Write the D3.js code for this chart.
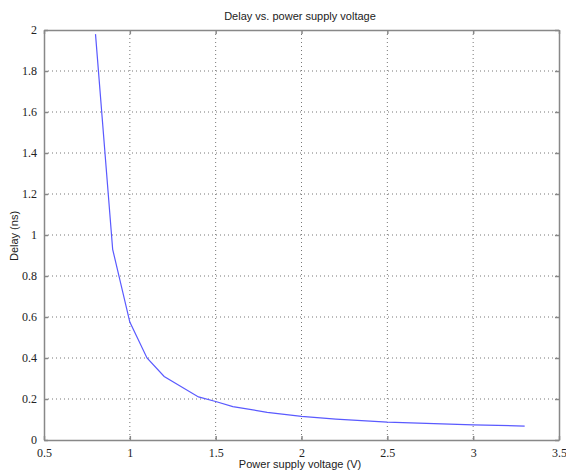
<!DOCTYPE html>
<html><head><meta charset="utf-8">
<script src="https://cdn.jsdelivr.net/npm/d3@7"></script>
<style>body{margin:0;background:#fff;} .tk text{font-family:'Liberation Serif','Times New Roman',serif;font-size:12px;fill:#222;}</style>
</head><body>
<svg id="c" width="566" height="471"></svg>
<script>
const voltage = [0.8, 0.9, 1.0, 1.1, 1.2, 1.4, 1.5, 1.6, 1.8, 2.0, 2.2, 2.5, 3.0, 3.3];
const delay   = [1.98, 0.93, 0.575, 0.40, 0.31, 0.21, 0.188, 0.163, 0.135, 0.115, 0.102, 0.087, 0.074, 0.068];
const xTicks = [0.5, 1, 1.5, 2, 2.5, 3, 3.5];
const yTicks = [0, 0.2, 0.4, 0.6, 0.8, 1, 1.2, 1.4, 1.6, 1.8, 2];

const svg = d3.select("#c");
const L = 44, R = 559, T = 30, B = 440;
const x = d3.scaleLinear().domain([0.5, 3.5]).range([L, R]);
const y = d3.scaleLinear().domain([0, 2]).range([B, T]);
const axisCol = "#888";

// grid
const g = svg.append("g");
g.selectAll(".gx").data(xTicks.slice(1, -1)).join("line")
  .attr("x1", d => x(d)).attr("x2", d => x(d)).attr("y1", T).attr("y2", B)
  .attr("stroke", "#777").attr("stroke-width", 1).attr("stroke-dasharray", "1,3");
g.selectAll(".gy").data(yTicks.slice(1, -1)).join("line")
  .attr("y1", d => y(d)).attr("y2", d => y(d)).attr("x1", L).attr("x2", R)
  .attr("stroke", "#777").attr("stroke-width", 1).attr("stroke-dasharray", "1,3");

// axes (inward ticks on all sides)
const fmt = d => String(d);
const ax = svg.append("g").attr("class", "tk").attr("transform", `translate(0,${B})`)
  .call(d3.axisBottom(x).tickValues(xTicks).tickFormat(fmt).tickSizeInner(-4).tickSizeOuter(0).tickPadding(8));
const axT = svg.append("g").attr("transform", `translate(0,${T})`)
  .call(d3.axisTop(x).tickValues(xTicks).tickFormat("").tickSizeInner(-4).tickSizeOuter(0));
const ay = svg.append("g").attr("class", "tk").attr("transform", `translate(${L},0)`)
  .call(d3.axisLeft(y).tickValues(yTicks).tickFormat(fmt).tickSizeInner(-4).tickSizeOuter(0).tickPadding(7));
const ayR = svg.append("g").attr("transform", `translate(${R},0)`)
  .call(d3.axisRight(y).tickValues(yTicks).tickFormat("").tickSizeInner(-4).tickSizeOuter(0));
[ax, axT, ay, ayR].forEach(a => {
  a.attr("font-family", null).attr("font-size", null);
  a.selectAll("path").attr("stroke", axisCol).attr("stroke-width", 1.5);
  a.selectAll("line").attr("stroke", axisCol).attr("stroke-width", 1.5);
});

// line
const pts = voltage.map((v, i) => [v, delay[i]]);
svg.append("path").datum(pts)
  .attr("fill", "none").attr("stroke", "#5a5aff").attr("stroke-width", 1.2)
  .attr("d", d3.line().x(d => x(d[0])).y(d => y(d[1])));

// labels
svg.append("text").attr("x", 300).attr("y", 20).attr("text-anchor", "middle")
  .attr("font-family", "Liberation Sans, Arial, sans-serif").attr("font-size", 11).attr("fill", "#222")
  .text("Delay vs. power supply voltage");
svg.append("text").attr("x", 300).attr("y", 468).attr("text-anchor", "middle")
  .attr("font-family", "Liberation Sans, Arial, sans-serif").attr("font-size", 11).attr("fill", "#222")
  .text("Power supply voltage (V)");
svg.append("text").attr("transform", "translate(18,236) rotate(-90)").attr("text-anchor", "middle")
  .attr("font-family", "Liberation Sans, Arial, sans-serif").attr("font-size", 11).attr("fill", "#222")
  .text("Delay (ns)");
</script>
</body></html>
